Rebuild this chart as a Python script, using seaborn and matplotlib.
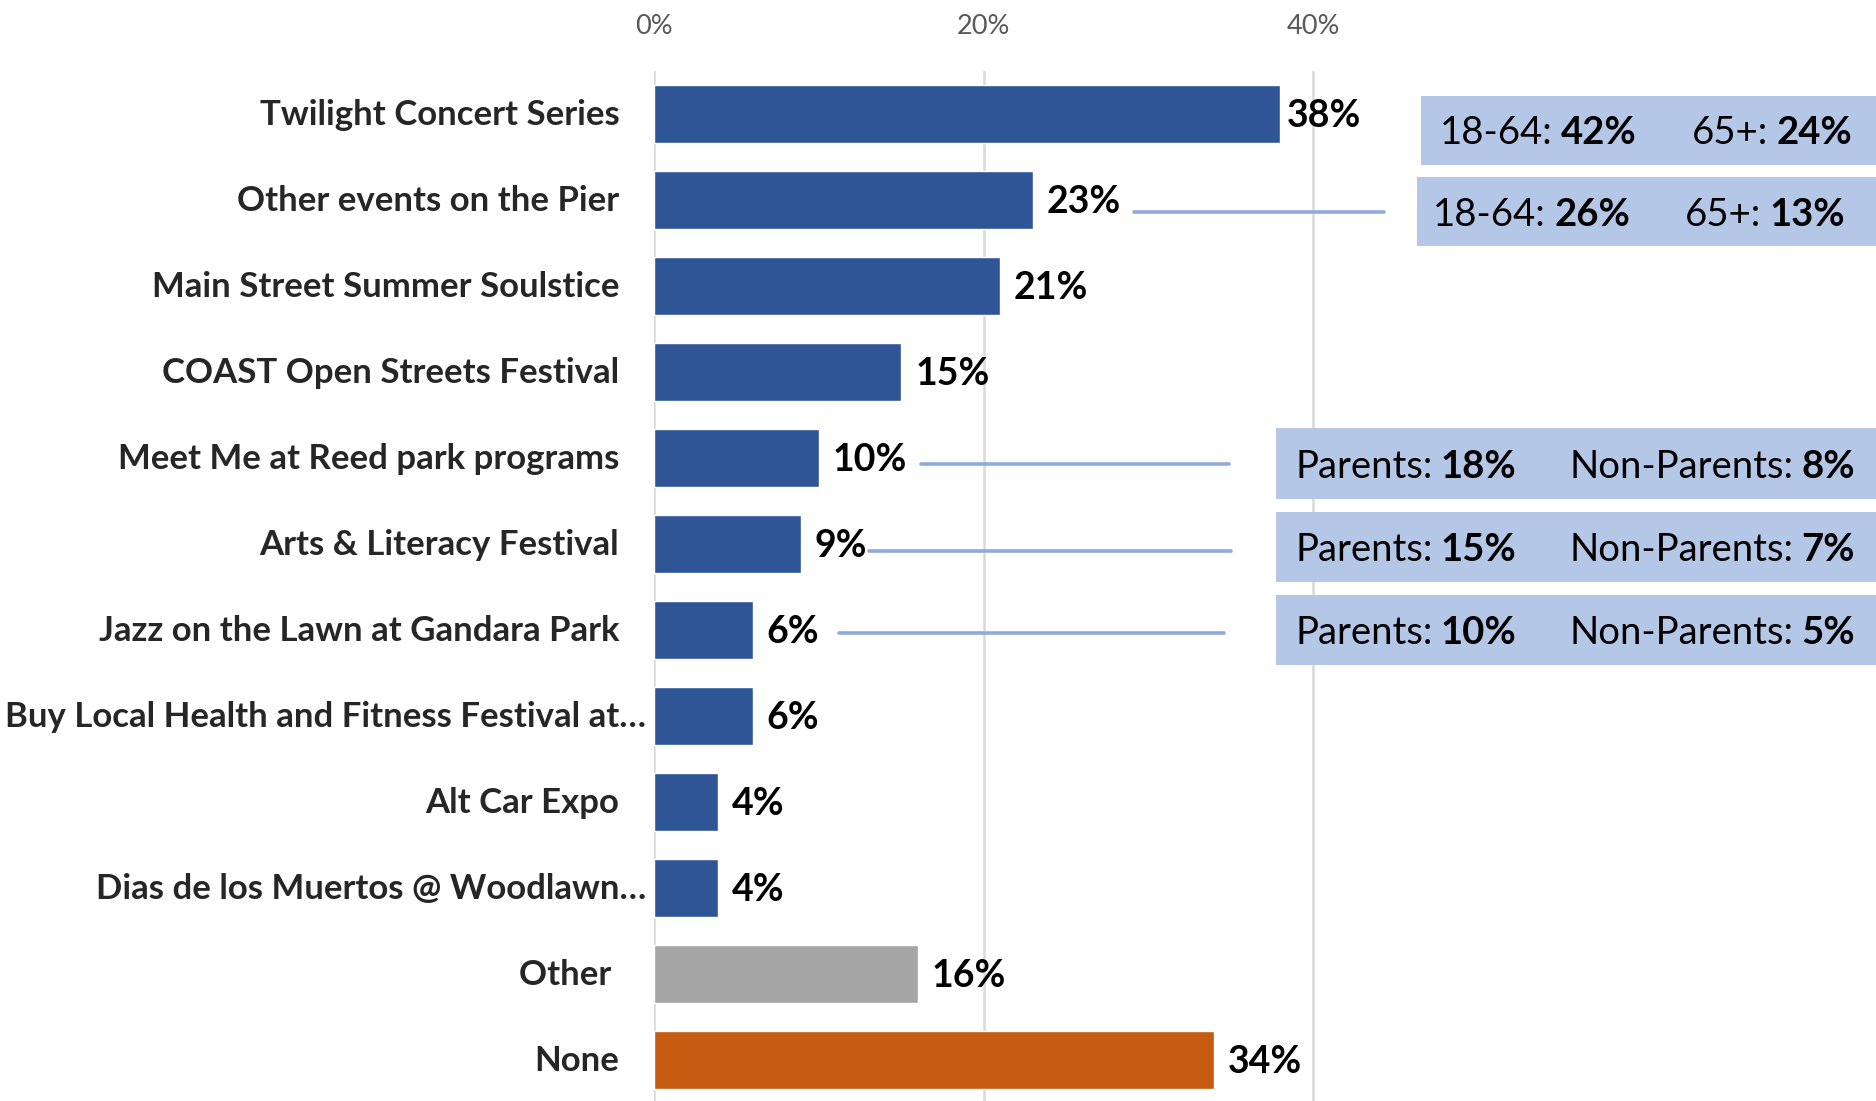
import matplotlib.pyplot as plt
import pandas as pd
import seaborn as sns
import numpy as np
from matplotlib.patches import Rectangle
from matplotlib.transforms import ScaledTranslation

# dados
eventos = ["Twilight Concert Series", "Other events on the Pier", "Main Street Summer Soulstice",
           "COAST Open Streets Festival", "Meet Me at Reed park programs", "Arts & Literacy Festival",
           "Jazz on the Lawn at Gandara Park", "Buy Local Health and Fitness Festival at\u2026",
           "Alt Car Expo", "Dias de los Muertos @ Woodlawn\u2026", "Other ", "None"]
valores = [0.38, 0.23, 0.21, 0.15, 0.10, 0.089, 0.06, 0.06, 0.039, 0.039, 0.16, 0.34]
cores = ["#2F5597"] * 10 + ["#A5A5A5", "#C55A11"]

# caixas de detalhe: (indice do evento, rotulo1, valor1, rotulo2, valor2)
detalhe_idade = [(0, "18-64:", "42%", "65+:", "24%"),
                 (1, "18-64:", "26%", "65+:", "13%")]
detalhe_pais = [(4, "Parents:", "18%", "Non-Parents:", "8%"),
                (5, "Parents:", "15%", "Non-Parents:", "7%"),
                (6, "Parents:", "10%", "Non-Parents:", "5%")]

df = pd.DataFrame({"evento": eventos, "valor": valores})

sns.set_style("white")
plt.rcParams['font.family'] = ['Lato', 'DejaVu Sans']

fig = plt.figure(figsize=(18.76, 11.01), dpi=100)
ax = fig.add_axes([654 / 1876, 0.0, 1222 / 1876, 1 - 70.7 / 1101])

sns.barplot(data=df, y="evento", x="valor", hue="evento", palette=cores, dodge=False,
            width=0.67, legend=False, ax=ax, orient="h", saturation=1)

ax.set_xlim(0, 0.7415)
ax.set_ylim(11.48, -0.5)
ax.set_xticks([0, 0.2, 0.4])
ax.set_xticklabels(["0%", "20%", "40%"])
ax.xaxis.tick_top()
ax.tick_params(axis="x", length=0, pad=23, labelsize=19.5, labelcolor="#595959")
ax.tick_params(axis="y", length=0, pad=25, labelsize=25)
for lbl in ax.get_yticklabels():
    lbl.set_fontweight("bold")
ax.set_xlabel("")
ax.set_ylabel("")
ax.grid(axis="x", color="#D9D9D9", linewidth=1.8)
ax.set_axisbelow(True)
for s in ax.spines.values():
    s.set_visible(False)

# rotulos de valor
for i, v in enumerate(valores):
    dx = 5 if i == 0 else 10
    ax.annotate(f"{v * 100:.0f}%", xy=(v, i), xytext=(dx, -2), textcoords="offset points",
                ha="left", va="center", fontsize=27, fontweight="bold", color="black")

cor_caixa = "#B4C7E7"
cor_linha = "#8FAADC"

# caixas 18-64 / 65+ e Parents / Non-Parents
caixa_idade = [(0.4653, -0.21, 0.81, 0.477, 0.630, None),
               (0.4632, 0.737, 0.807, 0.4728, 0.6255, (0.2911, 0.4428, 1.14))]
caixa_pais = [(0.3775, 3.66, 0.82, 0.389, 0.5554, (0.1619, 0.3492, 4.075)),
              (0.3775, 4.63, 0.82, 0.389, 0.5554, (0.1307, 0.3499, 5.09)),
              (0.3775, 5.60, 0.81, 0.389, 0.5554, (0.1125, 0.3456, 6.04))]

for det, cx in zip(detalhe_idade + detalhe_pais, caixa_idade + caixa_pais):
    _, r1, v1, r2, v2 = det
    x0, y0, h, tx1, tx2, linha = cx
    ax.add_patch(Rectangle((x0, y0), 0.7415 - x0 + 0.01, h, facecolor=cor_caixa,
                           edgecolor="none", clip_on=False, zorder=3))
    yc = y0 + h / 2 + 0.035
    for tx, r, v in [(tx1, r1, v1), (tx2, r2, v2)]:
        t = ax.text(tx, yc, r, ha="left", va="center", fontsize=27.5, color="black", zorder=4)
        ax.annotate(v, xy=(1, 0.5), xycoords=t, xytext=(6, 0), textcoords="offset points",
                    ha="left", va="center", fontsize=27.5, fontweight="bold", color="black", zorder=4)
    if linha is not None:
        ax.plot([linha[0], linha[1]], [linha[2], linha[2]], color=cor_linha, linewidth=2.6,
                zorder=2, clip_on=False)

# rotulos truncados avancam ate a barra
desloc = ScaledTranslation(27 / 100, 2 / 100, fig.dpi_scale_trans)
subir = ScaledTranslation(0, 2 / 100, fig.dpi_scale_trans)
for lbl in ax.get_yticklabels():
    if lbl.get_text().endswith("\u2026"):
        lbl.set_transform(lbl.get_transform() + desloc)
    else:
        lbl.set_transform(lbl.get_transform() + subir)

fig.savefig("out.png", dpi=100)
